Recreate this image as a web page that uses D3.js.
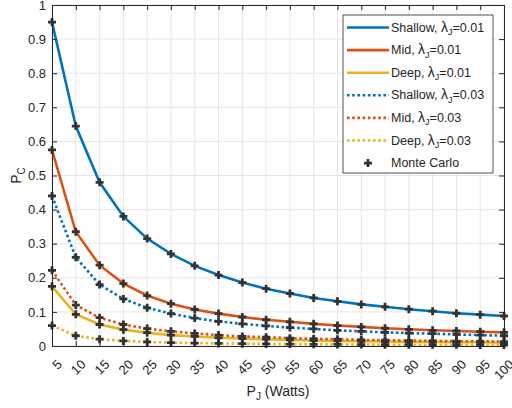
<!DOCTYPE html>
<html>
<head>
<meta charset="utf-8">
<script src="https://cdn.jsdelivr.net/npm/d3@7"></script>
<style>
  body { margin: 0; background: #fff; }
  text { font-family: "Liberation Sans", Arial, sans-serif; fill: #262626; }
</style>
</head>
<body>
<div id="chart"></div>
<script>
// transmit power values (x axis)
const powers = [5, 10, 15, 20, 25, 30, 35, 40, 45, 50, 55, 60, 65, 70, 75, 80, 85, 90, 95, 100];

// P_C per scenario
const shallow01 = [0.95, 0.645, 0.48, 0.38, 0.315, 0.27, 0.235, 0.208, 0.186, 0.168, 0.154, 0.141, 0.131, 0.122, 0.115, 0.108, 0.102, 0.096, 0.092, 0.088];
const mid01     = [0.575, 0.335, 0.237, 0.183, 0.148, 0.124, 0.107, 0.095, 0.085, 0.077, 0.071, 0.065, 0.060, 0.056, 0.052, 0.049, 0.046, 0.044, 0.042, 0.040];
const deep01    = [0.175, 0.093, 0.063, 0.048, 0.039, 0.032, 0.028, 0.024, 0.022, 0.020, 0.018, 0.016, 0.015, 0.014, 0.013, 0.012, 0.012, 0.011, 0.011, 0.010];
const shallow03 = [0.44, 0.26, 0.18, 0.138, 0.112, 0.095, 0.082, 0.072, 0.065, 0.059, 0.054, 0.050, 0.046, 0.043, 0.040, 0.038, 0.036, 0.034, 0.032, 0.030];
const mid03     = [0.222, 0.12, 0.083, 0.063, 0.051, 0.043, 0.037, 0.032, 0.028, 0.026, 0.023, 0.021, 0.020, 0.018, 0.017, 0.016, 0.015, 0.014, 0.014, 0.013];
const deep03    = [0.06, 0.03, 0.02, 0.015, 0.012, 0.010, 0.0087, 0.0075, 0.0067, 0.006, 0.0055, 0.005, 0.0046, 0.0043, 0.004, 0.0038, 0.0036, 0.0034, 0.0032, 0.003];

const seriesNames = ["Shallow", "Mid", "Deep", "Shallow", "Mid", "Deep"];
const seriesLambda = ["0.01", "0.01", "0.01", "0.03", "0.03", "0.03"];
const yTicks = [0, 0.1, 0.2, 0.3, 0.4, 0.5, 0.6, 0.7, 0.8, 0.9, 1];

const colors = ["#0072BD", "#D95319", "#EDB120", "#0072BD", "#D95319", "#EDB120"];
const allSeries = [shallow01, mid01, deep01, shallow03, mid03, deep03];

const width = 512, height = 408;
const margin = { top: 5, right: 8, bottom: 62, left: 52 };
const w = width - margin.left - margin.right;
const h = height - margin.top - margin.bottom;

const svg = d3.select("#chart").append("svg")
    .attr("width", width)
    .attr("height", height);

const g = svg.append("g")
    .attr("transform", "translate(" + margin.left + "," + margin.top + ")");

const xScale = d3.scaleLinear().domain([5, 100]).range([0, w]);
const yScale = d3.scaleLinear().domain([0, 1]).range([h, 0]);

// grid
g.append("g").selectAll("line")
    .data(powers)
    .enter().append("line")
    .attr("x1", d => xScale(d)).attr("x2", d => xScale(d))
    .attr("y1", 0).attr("y2", h)
    .attr("stroke", "#e6e6e6");
g.append("g").selectAll("line")
    .data(yTicks)
    .enter().append("line")
    .attr("y1", d => yScale(d)).attr("y2", d => yScale(d))
    .attr("x1", 0).attr("x2", w)
    .attr("stroke", "#e6e6e6");

// lines
const line = d3.line()
    .x((d, i) => xScale(powers[i]))
    .y(d => yScale(d));

allSeries.forEach(function (s, k) {
    g.append("path")
        .datum(s)
        .attr("d", line)
        .attr("fill", "none")
        .attr("stroke", colors[k])
        .attr("stroke-width", 2.6)
        .attr("stroke-dasharray", k >= 3 ? "2.6,2.6" : null);
});

// monte carlo markers
const plus = "M-4,0H4M0,-4V4";
allSeries.forEach(function (s) {
    g.append("g").selectAll("path")
        .data(s)
        .enter().append("path")
        .attr("d", plus)
        .attr("transform", (d, i) => "translate(" + xScale(powers[i]) + "," + yScale(d) + ")")
        .attr("stroke", "#333")
        .attr("stroke-width", 2.8)
        .attr("fill", "none");
});

// axes
const xAxis = g.append("g")
    .attr("transform", "translate(0," + h + ")")
    .call(d3.axisBottom(xScale).tickValues(powers).tickSizeInner(-5).tickSizeOuter(0).tickPadding(6));
xAxis.selectAll("text")
    .attr("font-size", 13)
    .attr("text-anchor", "end")
    .attr("dy", null)
    .attr("transform", "translate(6,15) rotate(-45)");

g.append("g")
    .call(d3.axisTop(xScale).tickValues(powers).tickSizeInner(-5).tickSizeOuter(0).tickFormat(""));

const yAxis = g.append("g")
    .call(d3.axisLeft(yScale).tickValues(yTicks).tickSizeInner(-5).tickSizeOuter(0).tickPadding(6)
        .tickFormat(d3.format("~g")));
yAxis.selectAll("text").attr("font-size", 13);

g.append("g")
    .attr("transform", "translate(" + w + ",0)")
    .call(d3.axisRight(yScale).tickValues(yTicks).tickSizeInner(-5).tickSizeOuter(0).tickFormat(""));

g.selectAll(".domain").attr("stroke", "#262626");
g.selectAll(".tick line").attr("stroke", "#262626");

// axis labels
const xl = svg.append("text")
    .attr("x", margin.left + w / 2)
    .attr("y", 396)
    .attr("text-anchor", "middle")
    .attr("font-size", 14);
xl.append("tspan").text("P");
xl.append("tspan").attr("font-size", 10).attr("dy", 4).text("J");
xl.append("tspan").attr("dy", -4).text(" (Watts)");

const yl = svg.append("text")
    .attr("transform", "translate(21," + (margin.top + h / 2) + ") rotate(-90)")
    .attr("text-anchor", "middle")
    .attr("font-size", 14);
yl.append("tspan").text("P");
yl.append("tspan").attr("font-size", 10).attr("dy", 4).text("C");

// legend
const legend = svg.append("g").attr("transform", "translate(343,15)");
legend.append("rect")
    .attr("width", 150).attr("height", 158)
    .attr("fill", "#fff").attr("stroke", "#262626").attr("stroke-width", 0.8);

const rowH = 22.6;
seriesNames.forEach(function (name, k) {
    const y = 12.5 + k * rowH;
    legend.append("line")
        .attr("x1", 4).attr("x2", 46)
        .attr("y1", y).attr("y2", y)
        .attr("stroke", colors[k]).attr("stroke-width", 2.6)
        .attr("stroke-dasharray", k >= 3 ? "2.6,2.6" : null);
    const t = legend.append("text")
        .attr("x", 48).attr("y", y + 4)
        .attr("font-size", 12.5);
    t.append("tspan").text(name + ", ");
    t.append("tspan").attr("font-size", 14).text("λ");
    t.append("tspan").attr("font-size", 9).attr("dy", 3.5).text("J");
    t.append("tspan").attr("dy", -3.5).text("=" + seriesLambda[k]);
});
const mcY = 12.5 + 6 * rowH;
legend.append("path")
    .attr("d", plus)
    .attr("transform", "translate(25," + mcY + ")")
    .attr("stroke", "#333").attr("stroke-width", 2.8);
legend.append("text")
    .attr("x", 48).attr("y", mcY + 4)
    .attr("font-size", 12.5)
    .text("Monte Carlo");
</script>
</body>
</html>
